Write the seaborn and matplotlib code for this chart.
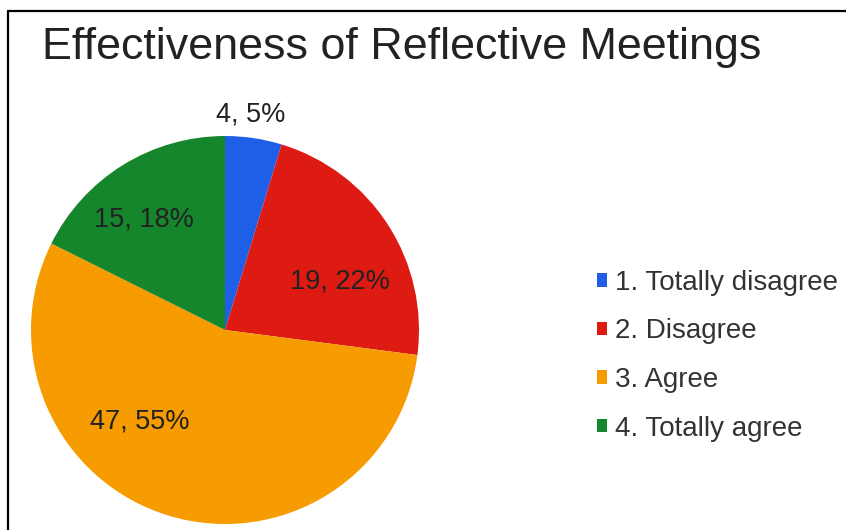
import matplotlib
matplotlib.use("Agg")
import matplotlib.pyplot as plt
from matplotlib.lines import Line2D
import seaborn as sns

# Survey responses: how effective were the reflective meetings?
categories = ["1. Totally disagree", "2. Disagree", "3. Agree", "4. Totally agree"]
counts = [4, 19, 47, 15]
slice_colors = ["#1f5fe8", "#dd1b12", "#f79c00", "#16862c"]

sns.set_theme(style="white")
plt.rcParams["font.family"] = ["Liberation Sans", "DejaVu Sans"]

W, H = 846, 530
fig = plt.figure(figsize=(W / 100, H / 100), dpi=100)
fig.patch.set_facecolor("white")
# axes spanning the whole canvas, one data unit per pixel (y upward)
ax = fig.add_axes([0, 0, 1, 1])

center = (225, H - 330)
radius = 194
wedges, _ = ax.pie(
    counts,
    colors=slice_colors,
    startangle=90,
    counterclock=False,
    center=center,
    radius=radius,
    frame=True,
    wedgeprops=dict(linewidth=0),
)
ax.set_xlim(0, W)
ax.set_ylim(0, H)
ax.set_aspect("equal")
ax.axis("off")

# value labels "count, percent" placed relative to the pie centre (radius units)
total = sum(counts)
label_offsets = [(0.13, 1.11), (0.59, 0.25), (-0.44, -0.47), (-0.42, 0.57)]
for n, (dx, dy) in zip(counts, label_offsets):
    ax.text(center[0] + dx * radius, center[1] + dy * radius,
            f"{n}, {round(100 * n / total)}%",
            ha="center", va="center", fontsize=19.5, color="#222222")

fig.text(402 / W, 1 - 47 / H, "Effectiveness of Reflective Meetings",
         ha="center", va="center", fontsize=32.3, color="#222222")

leg = ax.legend(wedges, categories, loc="upper left",
                bbox_to_anchor=(597, H - 270), bbox_transform=ax.transData,
                frameon=False, fontsize=20, borderpad=0, borderaxespad=0,
                handlelength=0.36, handleheight=0.36, handletextpad=0.3,
                labelspacing=0.81)
for t in leg.get_texts():
    t.set_color("#333333")

# thin frame on the top and left edges
fig.add_artist(Line2D([8 / W, 1], [1 - 11 / H, 1 - 11 / H], color="black", lw=1.6,
                      transform=fig.transFigure))
fig.add_artist(Line2D([8 / W, 8 / W], [0, 1 - 11 / H], color="black", lw=1.6,
                      transform=fig.transFigure))

fig.savefig("out.png", dpi=100)
